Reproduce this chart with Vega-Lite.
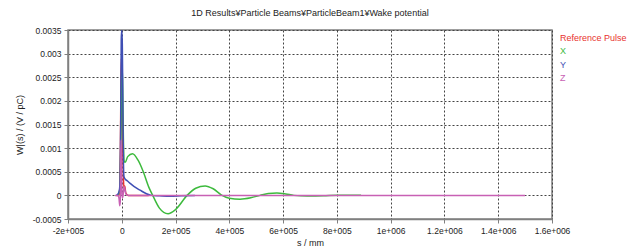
{
  "$schema": "https://vega.github.io/schema/vega-lite/v6.json",
  "autosize": "none",
  "width": 484,
  "height": 189,
  "padding": {"left": 68, "top": 30, "right": 84, "bottom": 28},
  "background": "white",
  "title": {"text": "1D Results¥Particle Beams¥ParticleBeam1¥Wake potential", "fontSize": 9, "font": "Liberation Sans", "fontWeight": "normal", "color": "#222", "anchor": "middle", "offset": 8},
  "config": {
    "font": "Liberation Sans",
    "view": {"stroke": "#808080", "strokeWidth": 1.5},
    "axis": {"labelFont": "Liberation Sans", "labelFontSize": 8.5, "labelColor": "#222", "labelOverlap": false, "labelFlush": false, "labelBound": false, "titleFont": "Liberation Sans", "titleFontSize": 9, "titleFontWeight": "normal", "titleColor": "#222", "gridColor": "#444", "gridDash": [2, 2], "gridOpacity": 1, "gridWidth": 1, "domainColor": "#808080", "domainWidth": 1.5, "tickColor": "#808080", "tickSize": 4}
  },
  "data": {"values": [
    {"s": -20000, "w": 0, "series": "Reference Pulse"},
    {"s": -10000, "w": 0, "series": "Reference Pulse"},
    {"s": -7000, "w": 0.0002, "series": "Reference Pulse"},
    {"s": -5000, "w": 0.0011, "series": "Reference Pulse"},
    {"s": -3000, "w": 0.0024, "series": "Reference Pulse"},
    {"s": -1500, "w": 0.0029, "series": "Reference Pulse"},
    {"s": 0, "w": 0.0026, "series": "Reference Pulse"},
    {"s": 2000, "w": 0.0016, "series": "Reference Pulse"},
    {"s": 4000, "w": 0.0009, "series": "Reference Pulse"},
    {"s": 6000, "w": 0.0004, "series": "Reference Pulse"},
    {"s": 8000, "w": 0.00015, "series": "Reference Pulse"},
    {"s": 11000, "w": 0.0002, "series": "Reference Pulse"},
    {"s": 15000, "w": 0.00005, "series": "Reference Pulse"},
    {"s": 25000, "w": 0, "series": "Reference Pulse"},
    {"s": 100000, "w": 0, "series": "Reference Pulse"},

    {"s": -15000, "w": 0, "series": "X"},
    {"s": -8000, "w": 0.0001, "series": "X"},
    {"s": -5000, "w": 0.0005, "series": "X"},
    {"s": -2500, "w": 0.0016, "series": "X"},
    {"s": 0, "w": 0.0025, "series": "X"},
    {"s": 2000, "w": 0.0027, "series": "X"},
    {"s": 4000, "w": 0.002, "series": "X"},
    {"s": 6000, "w": 0.0012, "series": "X"},
    {"s": 9000, "w": 0.00072, "series": "X"},
    {"s": 13000, "w": 0.0007, "series": "X"},
    {"s": 22000, "w": 0.00082, "series": "X"},
    {"s": 40000, "w": 0.00088, "series": "X"},
    {"s": 60000, "w": 0.00075, "series": "X"},
    {"s": 80000, "w": 0.0005, "series": "X"},
    {"s": 100000, "w": 0.00018, "series": "X"},
    {"s": 115000, "w": 0, "series": "X"},
    {"s": 140000, "w": -0.00027, "series": "X"},
    {"s": 172000, "w": -0.00039, "series": "X"},
    {"s": 200000, "w": -0.0003, "series": "X"},
    {"s": 243000, "w": 0, "series": "X"},
    {"s": 275000, "w": 0.00015, "series": "X"},
    {"s": 310000, "w": 0.0002, "series": "X"},
    {"s": 340000, "w": 0.00014, "series": "X"},
    {"s": 373000, "w": 0, "series": "X"},
    {"s": 400000, "w": -0.00006, "series": "X"},
    {"s": 440000, "w": -0.00008, "series": "X"},
    {"s": 480000, "w": -0.00005, "series": "X"},
    {"s": 514000, "w": 0, "series": "X"},
    {"s": 545000, "w": 0.00004, "series": "X"},
    {"s": 577000, "w": 0.00005, "series": "X"},
    {"s": 610000, "w": 0.00003, "series": "X"},
    {"s": 640000, "w": 0, "series": "X"},
    {"s": 690000, "w": -0.000015, "series": "X"},
    {"s": 750000, "w": -0.00001, "series": "X"},
    {"s": 800000, "w": 0.000005, "series": "X"},
    {"s": 890000, "w": 0.000005, "series": "X"},

    {"s": -20000, "w": 0, "series": "Y"},
    {"s": -12000, "w": 0.00005, "series": "Y"},
    {"s": -8000, "w": 0.00015, "series": "Y"},
    {"s": -6000, "w": 0.0004, "series": "Y"},
    {"s": -4000, "w": 0.0015, "series": "Y"},
    {"s": -2000, "w": 0.0033, "series": "Y"},
    {"s": 0, "w": 0.0035, "series": "Y"},
    {"s": 2000, "w": 0.0032, "series": "Y"},
    {"s": 4000, "w": 0.002, "series": "Y"},
    {"s": 6000, "w": 0.0008, "series": "Y"},
    {"s": 8000, "w": 0.0004, "series": "Y"},
    {"s": 12000, "w": 0.00035, "series": "Y"},
    {"s": 20000, "w": 0.00031, "series": "Y"},
    {"s": 30000, "w": 0.00026, "series": "Y"},
    {"s": 45000, "w": 0.00019, "series": "Y"},
    {"s": 68000, "w": 0.00011, "series": "Y"},
    {"s": 90000, "w": 0.00004, "series": "Y"},
    {"s": 110000, "w": 0, "series": "Y"},
    {"s": 140000, "w": -0.00001, "series": "Y"},
    {"s": 180000, "w": -0.00002, "series": "Y"},
    {"s": 220000, "w": -0.00001, "series": "Y"},
    {"s": 272000, "w": 0, "series": "Y"},

    {"s": -25000, "w": 0, "series": "Z"},
    {"s": -13000, "w": 0, "series": "Z"},
    {"s": -10000, "w": -0.00008, "series": "Z"},
    {"s": -7500, "w": -0.00022, "series": "Z"},
    {"s": -5500, "w": -0.00012, "series": "Z"},
    {"s": -4000, "w": 0.0006, "series": "Z"},
    {"s": -2500, "w": 0.00117, "series": "Z"},
    {"s": -1000, "w": 0.0006, "series": "Z"},
    {"s": 1000, "w": 0, "series": "Z"},
    {"s": 3000, "w": -0.00005, "series": "Z"},
    {"s": 6000, "w": 0.00005, "series": "Z"},
    {"s": 9000, "w": 0.00018, "series": "Z"},
    {"s": 12000, "w": 0.00012, "series": "Z"},
    {"s": 16000, "w": 0.00002, "series": "Z"},
    {"s": 25000, "w": 0, "series": "Z"},
    {"s": 1500000, "w": 0, "series": "Z"}
  ]},
  "mark": {"type": "line", "strokeWidth": 1.5, "interpolate": "monotone", "clip": true},
  "encoding": {
    "x": {"field": "s", "type": "quantitative", "scale": {"domain": [-200000, 1600000], "nice": false, "zero": false},
      "axis": {"title": "s / mm", "values": [-200000, 0, 200000, 400000, 600000, 800000, 1000000, 1200000, 1400000, 1600000], "labelExpr": "datum.value == 0 ? '0' : replace(replace(format(datum.value, '.1~e'), 'e+', 'e+00'), '−', '-')", "labelPadding": 3, "titlePadding": 4}},
    "y": {"field": "w", "type": "quantitative", "scale": {"domain": [-0.0005, 0.0035], "nice": false, "zero": false},
      "axis": {"title": "W|(s) / (V / pC)", "values": [-0.0005, 0, 0.0005, 0.001, 0.0015, 0.002, 0.0025, 0.003, 0.0035], "labelExpr": "datum.value == 0 ? '0' : replace(format(datum.value, '~g'), '−', '-')", "labelPadding": 3, "titlePadding": 8}},
    "color": {"field": "series", "type": "nominal",
      "scale": {"domain": ["Reference Pulse", "X", "Y", "Z"], "range": ["#e8322e", "#3dba3d", "#3f4fb4", "#c860b4"]},
      "legend": {"title": null, "orient": "none", "legendX": 483, "legendY": 3, "symbolSize": 0, "symbolOpacity": 0, "symbolStrokeWidth": 0, "labelFontSize": 9, "labelFont": "Liberation Sans", "labelOffset": 0, "rowPadding": 3.5,
        "encode": {"labels": {"update": {"fill": {"scale": "color", "field": "value"}}}}}}
  }
}
